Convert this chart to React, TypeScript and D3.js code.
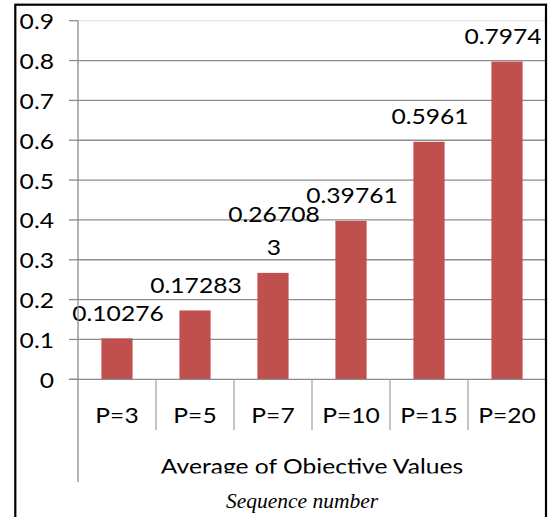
import React from "react";
import * as d3 from "d3";

// chart data
const categories = ["P=3", "P=5", "P=7", "P=10", "P=15", "P=20"];
const values = [0.10276, 0.17283, 0.267083, 0.39761, 0.5961, 0.7974];
const valueLabels = ["0.10276", "0.17283", "0.267083", "0.39761", "0.5961", "0.7974"];
const yTicks = [0, 0.1, 0.2, 0.3, 0.4, 0.5, 0.6, 0.7, 0.8, 0.9];
const groupLabel = "Average of Objective Values";
const captionText = "Sequence number";

const W = 548, H = 517;
const left = 78, right = 546, top = 20.7, zero = 379.3;
const font = "Lato, 'Open Sans', sans-serif";

// excel wraps long labels at the label width
function wrap(s: string) {
  if (s.length <= 7) return [s];
  return [s.slice(0, 7), s.slice(7)];
}

// calibri-ish text, stretched a bit wider like the original
function T(props: { x: number; y: number; anchor?: string; children: any }) {
  return (
    <g transform={`translate(${props.x},${props.y}) scale(1.12,1)`}>
      <text textAnchor={props.anchor || "middle"} dominantBaseline="central"
        fontFamily={font} fontSize={22} fill="#000">{props.children}</text>
    </g>
  );
}

export default function App() {
  var y = d3.scaleLinear().domain([0, 0.9]).range([zero, top]);
  var x = d3.scaleBand().domain(categories).range([left, right])
    .paddingInner(0.6).paddingOuter(0.3);
  var xCat = d3.scaleBand().domain(categories).range([left, right]).padding(0);

  return (
    <svg width={W} height={H} style={{ position: "absolute", left: 0, top: 0, background: "#fff" }}>
      <defs>
        <clipPath id="cut">
          <rect x={0} y={0} width={W} height={473.5} />
        </clipPath>
      </defs>

      {/* gridlines + y ticks */}
      {yTicks.map((t, i) => (
        <g key={i}>
          {t > 0 && (
            <line x1={left} x2={right} y1={y(t)} y2={y(t)}
              stroke={t === 0.9 ? "#e4e4e4" : "#8c8c8c"} strokeWidth={1.3} />
          )}
          <line x1={69} x2={left} y1={y(t)} y2={y(t)} stroke="#8c8c8c" strokeWidth={1.3} />
          <T x={54} y={y(t)} anchor="end">{d3.format("")(t)}</T>
        </g>
      ))}

      {/* bars */}
      {values.map((v, i) => (
        <rect key={i} x={x(categories[i])} y={y(v)} width={x.bandwidth()}
          height={zero - y(v)} fill="#C0504D" />
      ))}

      {/* data labels, kept inside the frame on the right */}
      {values.map((v, i) => {
        var lines = wrap(valueLabels[i]);
        var cx = Math.min(x(categories[i])! + x.bandwidth() / 2 + 1, right - 43);
        return lines.map((l, j) => (
          <T key={i + "-" + j} x={cx} y={y(v) - 26 - (lines.length - 1 - j) * 33}>{l}</T>
        ));
      })}

      {/* axes */}
      <line x1={69} x2={right} y1={zero} y2={zero} stroke="#8c8c8c" strokeWidth={1.3} />
      <line x1={left} x2={left} y1={top} y2={482} stroke="#8c8c8c" strokeWidth={1.3} />
      {categories.slice(1).map((c, i) => (
        <line key={i} x1={xCat(c)} x2={xCat(c)} y1={zero} y2={430}
          stroke="#a6a6a6" strokeWidth={1.3} />
      ))}
      {categories.map((c, i) => (
        <T key={i} x={xCat(c)! + xCat.bandwidth() / 2} y={415}>{c}</T>
      ))}
      <g clipPath="url(#cut)">
        <T x={(left + right) / 2} y={466}>{groupLabel}</T>
      </g>

      <text x={302} y={501} textAnchor="middle" dominantBaseline="central"
        fontFamily="'Liberation Serif', serif" fontStyle="italic" fontSize={21.5}
        fill="#000">{captionText}</text>

      {/* chart frame */}
      <rect x={15.3} y={4.7} width={530.7} height={620} fill="none" stroke="#000" strokeWidth={2.2} />
    </svg>
  );
}
